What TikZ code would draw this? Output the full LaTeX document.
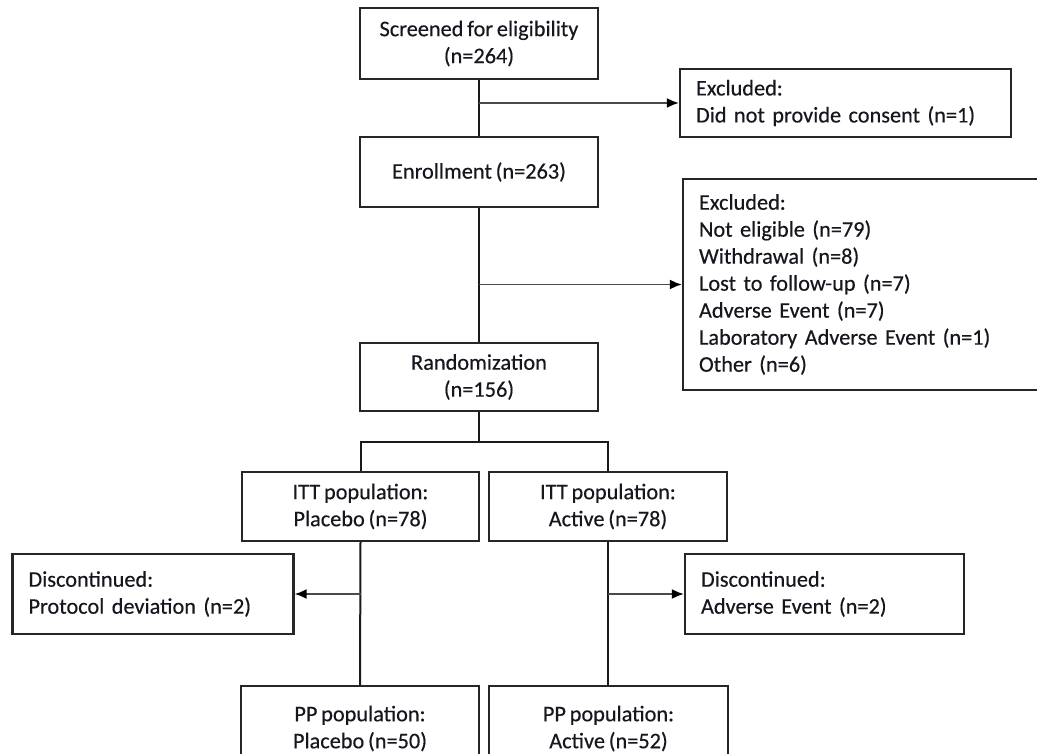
\documentclass[tikz,border=0pt]{standalone}
\usepackage{fontspec}
\setmainfont{Carlito}[WordSpace=0.75,FakeBold=0.35]
\usetikzlibrary{arrows.meta}
\definecolor{txt}{HTML}{16161E}
\definecolor{bord}{HTML}{262626}
\definecolor{conn}{HTML}{1A1A1A}
\definecolor{arrc}{HTML}{4A4A4A}
\begin{document}
\begin{tikzpicture}[x=1pt,y=-1pt,
  box/.style={draw=bord,line width=2.3pt,rectangle,inner sep=0pt,text=txt,
    font=\fontsize{22.3}{27}\selectfont},
  cbox/.style={box,align=center},
  lbox/.style={box,align=left,inner xsep=16pt},
  link/.style={draw=conn,line width=2pt},
  arr/.style={draw=arrc,line width=1.8pt,-{Latex[length=12pt,width=10pt,color=black]}}]
\useasboundingbox (0,0) rectangle (1037,754);
\clip (0,0) rectangle (1037,754);
\fill[white] (0,0) rectangle (1037,754);
% main column
\node[cbox,minimum width=238pt,minimum height=71pt] (scr) at (479,43.5) {Screened for eligibility\\(n=264)};
\node[lbox,text width=299pt,minimum height=68pt] (exc1) at (845.5,103) {Excluded:\\Did not provide consent (n=1)};
\node[cbox,minimum width=238pt,minimum height=70pt] (enr) at (479,172) {Enrollment (n=263)};
\node[lbox,text width=335pt,minimum height=211pt] (exc2) at (866.5,284.5) {Excluded:\\Not eligible (n=79)\\Withdrawal (n=8)\\Lost to follow-up (n=7)\\Adverse Event (n=7)\\Laboratory Adverse Event (n=1)\\Other (n=6)};
\node[cbox,minimum width=238pt,minimum height=68pt] (rand) at (479,377) {Randomization\\(n=156)};
\node[cbox,minimum width=237pt,minimum height=69pt] (ittp) at (360.5,506.5) {ITT population:\\Placebo (n=78)};
\node[cbox,minimum width=238pt,minimum height=69pt] (itta) at (608,506.5) {ITT population:\\Active (n=78)};
\node[lbox,text width=249pt,minimum height=80pt] (discp) at (153,594) {Discontinued:\\Protocol deviation (n=2)};
\node[lbox,text width=247pt,minimum height=80pt] (disca) at (824.5,594) {Discontinued:\\Adverse Event (n=2)};
\node[cbox,minimum width=238pt,minimum height=104pt] (ppp) at (360,738) {PP population:\\Placebo (n=50)\rule[-22pt]{0pt}{0pt}};
\node[cbox,minimum width=239pt,minimum height=104pt] (ppa) at (608.5,738) {PP population:\\Active (n=52)\rule[-22pt]{0pt}{0pt}};
% connectors
\draw[link] (scr.south) -- (enr.north);
\draw[arr] (scr.south |- exc1.west) -- (exc1.west);
\draw[link] (enr.south) -- (rand.north);
\draw[arr] (enr.south |- exc2.west) -- (exc2.west);
\coordinate (split) at (479,442);
\draw[link] (rand.south) -- (split);
\draw[link] (ittp.north) |- (split) -| (itta.north);
\draw[link] (ittp.south) -- (ppp.north);
\draw[arr] (ittp.south |- discp.east) -- (discp.east);
\draw[link] (itta.south) -- (itta.south |- ppa.north);
\draw[arr] (itta.south |- disca.west) -- (disca.west);
\end{tikzpicture}
\end{document}
